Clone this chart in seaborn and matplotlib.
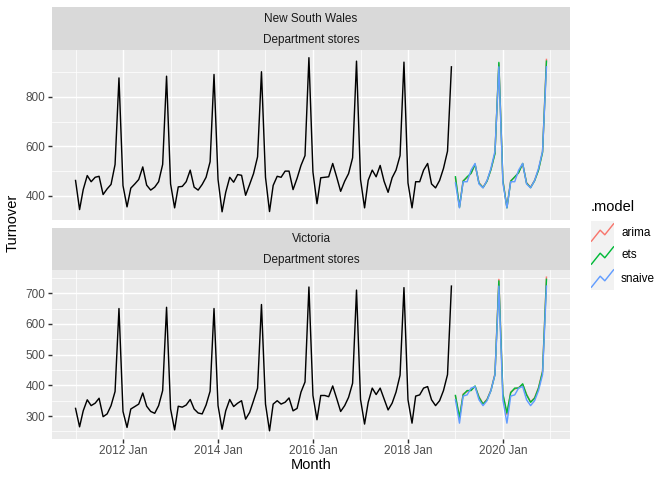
import numpy as np
import pandas as pd
import matplotlib
matplotlib.use("Agg")
import matplotlib.pyplot as plt
import matplotlib.dates as mdates
from matplotlib.ticker import MultipleLocator
import seaborn as sns

plt.rcParams['font.family'] = ['Liberation Sans', 'DejaVu Sans']

# ---------------- data ----------------
states = ["New South Wales", "Victoria"]
industry = "Department stores"
models = ["arima", "ets", "snaive"]
model_colors = ["#F8766D", "#00BA38", "#619CFF"]

hist_start, hist_end = "2011-01-01", "2018-12-01"
fc_start, fc_end = "2019-01-01", "2020-12-01"

nsw_hist = [461, 343, 424, 481, 456, 474, 478, 404, 427, 445, 526, 877,
            440, 354, 430, 447, 465, 516, 442, 422, 434, 456, 526, 884,
            447, 350, 435, 437, 456, 503, 434, 422, 445, 474, 537, 891,
            465, 334, 413, 474, 454, 485, 482, 401, 445, 489, 557, 902,
            474, 335, 441, 478, 474, 499, 499, 424, 470, 522, 562, 959,
            495, 367, 472, 474, 476, 530, 476, 417, 458, 489, 553, 945,
            465, 350, 462, 503, 476, 522, 458, 413, 472, 503, 562, 941,
            451, 350, 456, 456, 503, 530, 447, 431, 461, 510, 580, 922]
nsw_arima = [470, 355, 460, 472, 490, 525, 452, 433, 460, 505, 572, 935,
             462, 352, 460, 474, 494, 528, 452, 434, 462, 505, 578, 952]
nsw_ets = [476, 352, 458, 476, 490, 527, 450, 432, 458, 505, 570, 940,
           460, 350, 458, 476, 492, 530, 450, 432, 460, 503, 575, 945]
nsw_snaive = [451, 350, 456, 456, 503, 530, 447, 431, 461, 510, 580, 922,
              451, 350, 456, 456, 503, 530, 447, 431, 461, 510, 580, 922]

vic_hist = [325, 265, 317, 353, 334, 342, 358, 298, 307, 334, 380, 650,
            315, 263, 323, 331, 339, 375, 332, 315, 309, 334, 383, 654,
            323, 255, 332, 329, 336, 354, 323, 310, 307, 336, 381, 650,
            334, 257, 317, 354, 331, 342, 350, 290, 312, 350, 391, 663,
            339, 252, 339, 350, 339, 345, 359, 317, 325, 378, 411, 720,
            367, 288, 367, 367, 363, 398, 358, 315, 334, 361, 407, 710,
            354, 274, 345, 391, 370, 391, 356, 320, 342, 378, 433, 718,
            353, 277, 365, 369, 391, 396, 353, 334, 350, 383, 435, 723]
vic_arima = [365, 292, 372, 380, 385, 396, 363, 340, 355, 385, 438, 745,
             370, 305, 378, 388, 393, 403, 371, 346, 360, 393, 447, 752]
vic_ets = [367, 296, 369, 383, 383, 398, 361, 339, 353, 383, 435, 740,
           372, 310, 376, 391, 391, 405, 369, 345, 358, 391, 444, 745]
vic_snaive = [353, 277, 365, 369, 391, 396, 353, 334, 350, 383, 435, 723,
              353, 277, 365, 369, 391, 396, 353, 334, 350, 383, 435, 723]

hist_months = pd.date_range(hist_start, hist_end, freq="MS")
fc_months = pd.date_range(fc_start, fc_end, freq="MS")

hist_df = pd.concat([
    pd.DataFrame({"Month": hist_months, "Turnover": nsw_hist, "State": states[0]}),
    pd.DataFrame({"Month": hist_months, "Turnover": vic_hist, "State": states[1]}),
])
fc_parts = []
for st, series in [(states[0], {"arima": nsw_arima, "ets": nsw_ets, "snaive": nsw_snaive}),
                   (states[1], {"arima": vic_arima, "ets": vic_ets, "snaive": vic_snaive})]:
    for m in models:
        fc_parts.append(pd.DataFrame({"Month": fc_months, "Turnover": series[m],
                                      "State": st, ".model": m}))
fc_df = pd.concat(fc_parts)

# ---------------- layout ----------------
W, H = 672, 480
fig = plt.figure(figsize=(7, 5), dpi=96)

def fx(px):
    return px / W

def fy(py):
    return 1 - py / H

LINE_W = 1.07
panel_left, panel_right = 52, 570
panels = [(50, 219.5), (269.5, 438.5)]
strips = [(7, 50), (227.5, 269.5)]
y_major = [200, 100]
y_minor = [100, 50]

xmin = mdates.date2num(pd.Timestamp("2011-01-01"))
xmax = mdates.date2num(pd.Timestamp("2020-12-01"))
xpad = (xmax - xmin) * 0.05

for i, st in enumerate(states):
    top, bot = panels[i]
    ax = fig.add_axes([fx(panel_left), fy(bot), fx(panel_right - panel_left), (bot - top) / H])
    ax.set_facecolor("#EBEBEB")
    for s in ax.spines.values():
        s.set_visible(False)
    h = hist_df[hist_df.State == st]
    f = fc_df[fc_df.State == st]
    sns.lineplot(data=h, x="Month", y="Turnover", color="black", lw=LINE_W,
                 ax=ax, estimator=None, legend=False)
    sns.lineplot(data=f, x="Month", y="Turnover", hue=".model", hue_order=models,
                 palette=model_colors, lw=LINE_W, ax=ax, estimator=None, legend=False)
    allv = np.concatenate([h.Turnover.values, f.Turnover.values])
    lo, hi = allv.min(), allv.max()
    pad = (hi - lo) * 0.05
    ax.set_ylim(lo - pad, hi + pad)
    ax.set_xlim(xmin - xpad, xmax + xpad)

    ax.xaxis.set_major_locator(mdates.YearLocator(2))
    ax.xaxis.set_minor_locator(mdates.YearLocator(1))
    ax.xaxis.set_major_formatter(mdates.DateFormatter("%Y %b"))
    ax.yaxis.set_major_locator(MultipleLocator(y_major[i]))
    ax.yaxis.set_minor_locator(MultipleLocator(y_minor[i]))

    ax.set_axisbelow(True)
    ax.grid(which="major", color="white", lw=LINE_W)
    ax.grid(which="minor", color="white", lw=LINE_W / 2)
    ax.tick_params(which="major", length=2.75, width=LINE_W, color="#333333",
                   labelsize=8.8, labelcolor="#4D4D4D", pad=2.2)
    ax.tick_params(which="minor", length=0)
    ax.set_xlabel("")
    ax.set_ylabel("")
    if i == 0:
        ax.tick_params(axis="x", which="major", length=0, labelbottom=False)

    # strips
    s_top, s_bot = strips[i]
    mid = (s_top + s_bot) / 2
    for (a, b, label) in [(s_top, mid, st), (mid, s_bot, industry)]:
        sax = fig.add_axes([fx(panel_left), fy(b), fx(panel_right - panel_left), (b - a) / H])
        sax.set_facecolor("#D9D9D9")
        sax.set_xticks([])
        sax.set_yticks([])
        for s in sax.spines.values():
            s.set_visible(False)
        sax.text(0.5, 0.5 - 1.0 / (b - a), label, ha="center", va="center", fontsize=8.8,
                 color="#1A1A1A", transform=sax.transAxes)

# axis titles
fig.text(fx((panel_left + panel_right) / 2), fy(465), "Month", ha="center", va="center",
         fontsize=11, color="black")
fig.text(fx(13), fy(222.5), "Turnover", ha="center", va="center", rotation=90,
         fontsize=11, color="black")

# legend
fig.text(fx(591), fy(207), ".model", ha="left", va="center", fontsize=11, color="black")
key_top = 221
key_h = 23
for k, (m, c) in enumerate(zip(models, model_colors)):
    a = key_top + k * key_h
    kax = fig.add_axes([fx(591), fy(a + key_h), fx(23), key_h / H])
    kax.set_facecolor("#F2F2F2")
    kax.set_xlim(0, 1)
    kax.set_ylim(0, 1)
    kax.set_xticks([])
    kax.set_yticks([])
    for s in kax.spines.values():
        s.set_visible(False)
    kax.plot([0, 0.4, 0.6, 1], [0.1, 0.6, 0.4, 0.9], color=c, lw=LINE_W,
             solid_capstyle="butt")
    fig.text(fx(621), fy(a + key_h / 2), m, ha="left", va="center", fontsize=8.8,
             color="black")

fig.savefig("out.png", dpi=96)
